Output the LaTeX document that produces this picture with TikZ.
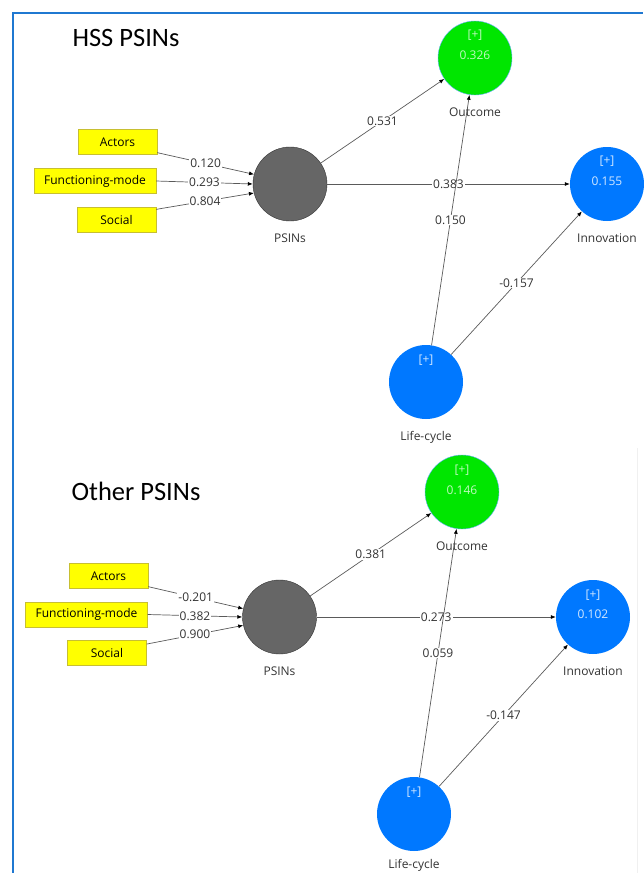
\documentclass[tikz,border=0pt]{standalone}
\usepackage{fontspec}
\setmainfont{Open Sans}
\newfontfamily\titlefont{Carlito}
\usetikzlibrary{arrows.meta}

\definecolor{frameblue}{HTML}{1F78D1}
\definecolor{outgreen}{HTML}{00E600}
\definecolor{latblue}{HTML}{0078FF}
\definecolor{boxyellow}{HTML}{FFFF00}
\definecolor{pathgray}{HTML}{5A5A5A}
\newcommand{\labelsize}{\fontsize{12}{14}\selectfont}

\tikzset{
  latent/.style={circle, minimum size=74pt, inner sep=0pt},
  lbl/.style={font=\labelsize, text=black!80, yshift=-9pt},
  greentext/.style={font=\labelsize, text=white!75!outgreen},
  bluetext/.style={font=\labelsize, text=white!82!latblue},
  indicator/.style={draw=yellow!75!black, fill=boxyellow, minimum height=25pt,
    minimum width=79pt, inner xsep=10pt, font=\labelsize},
  link/.style={draw=pathgray, line width=0.7pt, -{Latex[length=5pt,width=4pt,color=black]}},
  coef/.style={fill=white, inner sep=1pt, text=black!80, font=\labelsize},
  paneltitle/.style={font=\titlefont\fontsize{26.5}{30}\selectfont}
}

\begin{document}
\begin{tikzpicture}[x=1pt, y=-1pt]

  \useasboundingbox (0,0) rectangle (643,873);

  % frame
  \draw[frameblue, line width=2pt] (12.5,873) |- (643,13);
  \draw[black!6, line width=0.6pt] (637.5,448) -- (637.5,873);

  % ---- HSS PSINs ----
  \node[paneltitle] (title1) at (126,38) {HSS PSINs};

  \node[latent, fill=outgreen, draw=latblue!60, label={[lbl]below:Outcome}] (out1) at (475,58) {};
  \node[greentext] at ([yshift=23pt]out1.center) {[+]};
  \node[greentext] at ([yshift=3pt]out1.center) {0.326};

  \node[latent, fill=black!60, draw=black!80, label={[lbl]below:PSINs}] (psi1) at (290,184) {};

  \node[latent, fill=latblue, label={[lbl]below:Innovation}] (inn1) at (607,184) {};
  \node[bluetext] at ([yshift=23pt]inn1.center) {[+]};
  \node[bluetext] at ([yshift=3pt]inn1.center) {0.155};

  \node[latent, fill=latblue, label={[lbl]below:Life-cycle}] (lif1) at (426,382) {};
  \node[bluetext] at ([yshift=22pt]lif1.center) {[+]};

  \node[indicator] (act1) at (117.5,142) {Actors};
  \node[indicator] (fun1) at (95,181) {Functioning-mode};
  \node[indicator] (soc1) at (116.5,220) {Social};

  % indicator paths
  \foreach \src/\from/\to/\val in {act1/-15/165/0.120, fun1/0/180/0.293, soc1/15/194/0.804}
    \draw[link] (\src.\from) -- node[coef] {\val} (psi1.\to);

  \draw[link] (psi1) -- node[coef] {0.531} (out1);
  \draw[link] (psi1) -- node[coef] {0.383} (inn1);
  \draw[link] (lif1) -- node[coef] {0.150} (out1);
  \draw[link] (lif1) -- node[coef] {-0.157} (inn1);

  % ---- Other PSINs ----
  \node[paneltitle] (title2) at (136,491) {Other PSINs};

  \node[latent, fill=outgreen, draw=latblue!60, label={[lbl]below:Outcome}] (out2) at (462,492) {};
  \node[greentext] at ([yshift=22pt]out2.center) {[+]};
  \node[greentext] at ([yshift=2pt]out2.center) {0.146};

  \node[latent, fill=black!60, draw=black!80, label={[lbl]below:PSINs}] (psi2) at (279.5,617) {};

  \node[latent, fill=latblue, label={[lbl]below:Innovation}] (inn2) at (593,617) {};
  \node[bluetext] at ([yshift=22pt]inn2.center) {[+]};
  \node[bluetext] at ([yshift=3pt]inn2.center) {0.102};

  \node[latent, fill=latblue, label={[lbl, yshift=4pt]below:Life-cycle}] (lif2) at (414,814) {};
  \node[bluetext] at ([yshift=22pt]lif2.center) {[+]};

  \node[indicator] (act2) at (108.5,576) {Actors};
  \node[indicator] (fun2) at (86.5,614.5) {Functioning-mode};
  \node[indicator] (soc2) at (107,652.5) {Social};

  \foreach \src/\from/\to/\val in {act2/-15/167/-0.201, fun2/0/180/0.382, soc2/12/193/0.900}
    \draw[link] (\src.\from) -- node[coef] {\val} (psi2.\to);

  \draw[link] (psi2) -- node[coef] {0.381} (out2);
  \draw[link] (psi2) -- node[coef] {0.273} (inn2);
  \draw[link] (lif2) -- node[coef] {0.059} (out2);
  \draw[link] (lif2) -- node[coef] {-0.147} (inn2);

\end{tikzpicture}
\end{document}
